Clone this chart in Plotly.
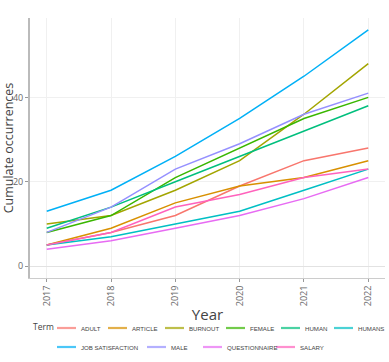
import plotly.graph_objects as go

years = [2017, 2018, 2019, 2020, 2021, 2022]
terms = ["ADULT", "ARTICLE", "BURNOUT", "FEMALE", "HUMAN", "HUMANS",
         "JOB SATISFACTION", "MALE", "QUESTIONNAIRE", "SALARY"]
adult = [5, 8, 12, 19, 25, 28]
article = [5, 9, 15, 19, 21, 25]
burnout = [10, 12, 18, 25, 36, 48]
female = [8, 12, 21, 28, 35, 40]
human = [9, 14, 20, 26, 32, 38]
humans = [5, 7, 10, 13, 18, 23]
job_satisfaction = [13, 18, 26, 35, 45, 56]
male = [8, 14, 23, 29, 36, 41]
questionnaire = [4, 6, 9, 12, 16, 21]
salary = [5, 8, 14, 17, 21, 23]
series = [adult, article, burnout, female, human, humans,
          job_satisfaction, male, questionnaire, salary]

# styling / layout (not data)
colors = ["#F8766D", "#D89000", "#A3A500", "#39B600", "#00BF7D", "#00BFC4",
          "#00B0F6", "#9590FF", "#E76BF3", "#FF62BC"]
W, H = 389, 362
L, R, T, B = 30, 4, 18, 84
PW, PH = W - L - R, H - T - B
legend_rows = [0, 0, 0, 0, 0, 0, 1, 1, 1, 1]
legend_px = [57, 108, 165, 226, 281, 334, 57, 147, 203, 276]
legend_row_y = [328, 347]


def px_to_paper_x(px):
    return (px - L) / PW


def py_to_paper_y(py):
    return (H - B - py) / PH


fig = go.Figure()
for name, vals, col in zip(terms, series, colors):
    fig.add_trace(go.Scatter(x=years, y=vals, mode="lines", name=name,
                             line=dict(color=col, width=1.5), showlegend=False))

shapes, annotations = [], []
for name, col, row, lx in zip(terms, colors, legend_rows, legend_px):
    yy = py_to_paper_y(legend_row_y[row])
    shapes.append(dict(type="line", xref="paper", yref="paper",
                       x0=px_to_paper_x(lx), x1=px_to_paper_x(lx + 19), y0=yy, y1=yy,
                       line=dict(color=col, width=2.2), opacity=0.7))
    annotations.append(dict(xref="paper", yref="paper", x=px_to_paper_x(lx + 22), y=yy,
                            xanchor="left", yanchor="middle", showarrow=False,
                            text=name, font=dict(size=6.1, color="#444",
                                                 family="Liberation Sans, Arial, sans-serif")))
annotations.append(dict(xref="paper", yref="paper", x=px_to_paper_x(31), y=py_to_paper_y(326),
                        xanchor="left", yanchor="middle", showarrow=False, text="Term",
                        font=dict(size=8.5, color="#444")))

fig.update_layout(
    width=W, height=H,
    margin=dict(l=L, r=R, t=T, b=B, autoexpand=False),
    plot_bgcolor="white", paper_bgcolor="white",
    font=dict(family="Open Sans, Arial, sans-serif", color="#444"),
    showlegend=False,
    shapes=shapes, annotations=annotations,
)
fig.update_xaxes(
    range=[2016.74, 2022.26], tickvals=years, ticktext=[str(y) for y in years],
    tickangle=-90, tickfont=dict(size=9, color="#666"),
    showgrid=True, gridcolor="#F0F0F0", gridwidth=1,
    showline=True, linecolor="#CCCCCC", linewidth=1,
    ticks="outside", ticklen=3, tickcolor="#999", zeroline=False, automargin=False,
    title=dict(text="Year", font=dict(size=15, color="#444"), standoff=4),
)
fig.update_yaxes(
    range=[-2.8, 58.8], tickvals=[0, 20, 40],
    tickfont=dict(size=9, color="#666"),
    showgrid=True, gridcolor="#F0F0F0", gridwidth=1,
    showline=True, linecolor="#BBBBBB", linewidth=2,
    ticks="outside", ticklen=3, tickcolor="#999", automargin=False,
    zeroline=True, zerolinecolor="#E2E2E2", zerolinewidth=1,
    title=dict(text="Cumulate occurrences", font=dict(size=12.5, color="#444"), standoff=2),
)
fig.write_html("out.html", config={"displayModeBar": False},
               post_script="document.body.style.margin='0';document.body.style.overflow='hidden';")
